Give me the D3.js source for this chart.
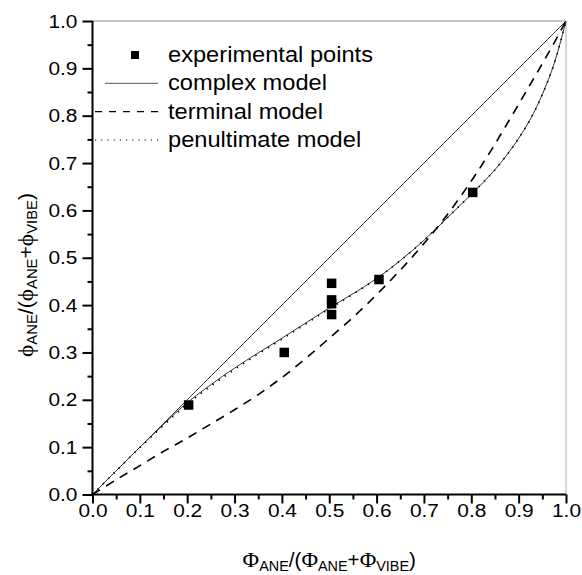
<!DOCTYPE html>
<html>
<head>
<meta charset="utf-8">
<script src="https://cdn.jsdelivr.net/npm/d3@7"></script>
<style>
  html, body { margin: 0; padding: 0; background: #fff; }
  svg { display: block; }
  text { font-family: "Liberation Sans", Arial, sans-serif; fill: #000; }
</style>
</head>
<body>
<svg id="chart" width="582" height="575"></svg>
<script>
// ---- data ----
const majorTicks = [0.0, 0.1, 0.2, 0.3, 0.4, 0.5, 0.6, 0.7, 0.8, 0.9, 1.0];
const minorTicks = [0.05, 0.15, 0.25, 0.35, 0.45, 0.55, 0.65, 0.75, 0.85, 0.95];
const tickLabels = ["0.0","0.1","0.2","0.3","0.4","0.5","0.6","0.7","0.8","0.9","1.0"];

const expX = [0.203, 0.405, 0.505, 0.505, 0.505, 0.505, 0.605, 0.803];
const expY = [0.189, 0.300, 0.446, 0.411, 0.403, 0.380, 0.454, 0.638];

const diagX = [0, 1];
const diagY = [0, 1];

const modelX = [0, 0.05, 0.1, 0.15, 0.2, 0.25, 0.3, 0.35, 0.4, 0.45, 0.5, 0.55, 0.6, 0.65, 0.7, 0.75, 0.8, 0.825, 0.85, 0.875, 0.9, 0.925, 0.95, 0.975, 1.0];
const complexY  = [0, 0.05, 0.1, 0.148, 0.194, 0.232, 0.267, 0.299, 0.330, 0.362, 0.394, 0.424, 0.456, 0.494, 0.537, 0.585, 0.634, 0.659, 0.686, 0.717, 0.752, 0.793, 0.845, 0.910, 1.0];
const penultY   = [0, 0.05, 0.099, 0.146, 0.191, 0.229, 0.264, 0.297, 0.328, 0.360, 0.392, 0.423, 0.456, 0.494, 0.537, 0.585, 0.634, 0.659, 0.686, 0.717, 0.752, 0.793, 0.845, 0.910, 1.0];
const terminalY = [0, 0.031, 0.061, 0.091, 0.119, 0.149, 0.179, 0.211, 0.247, 0.287, 0.330, 0.374, 0.422, 0.474, 0.530, 0.592, 0.662, 0.700, 0.740, 0.782, 0.824, 0.867, 0.910, 0.954, 1.0];

const legendLabels = ["experimental points", "complex model", "terminal model", "penultimate model"];

// ---- layout ----
const svg = d3.select("#chart");
const L = 92.5, T = 21, W = 473.5, H = 473.5;
const x = d3.scaleLinear().domain([0, 1]).range([L, L + W]);
const y = d3.scaleLinear().domain([0, 1]).range([T + H, T]);

// frame: top and right thin grey
svg.append("line").attr("x1", x(0)).attr("x2", x(1)).attr("y1", y(1)).attr("y2", y(1))
  .attr("stroke", "#8a8a8a").attr("stroke-width", 1);
svg.append("line").attr("x1", x(1)).attr("x2", x(1)).attr("y1", y(1)).attr("y2", y(0))
  .attr("stroke", "#c8c8c8").attr("stroke-width", 1.5);

const line = d3.line().x(d => x(d[0])).y(d => y(d[1]));
const smooth = d3.line().x(d => x(d[0])).y(d => y(d[1])).curve(d3.curveCatmullRom.alpha(0.5));

// diagonal
svg.append("path").datum(diagX.map((v, i) => [v, diagY[i]])).attr("d", line)
  .attr("fill", "none").attr("stroke", "#333").attr("stroke-width", 1);
// complex
svg.append("path").datum(modelX.map((v, i) => [v, complexY[i]])).attr("d", smooth)
  .attr("fill", "none").attr("stroke", "#333").attr("stroke-width", 1);
// penultimate dotted
svg.append("path").datum(modelX.map((v, i) => [v, penultY[i]])).attr("d", smooth)
  .attr("fill", "none").attr("stroke", "#000").attr("stroke-width", 1.6)
  .attr("stroke-dasharray", "1.4,6");
// terminal dashed
svg.append("path").datum(modelX.map((v, i) => [v, terminalY[i]])).attr("d", smooth)
  .attr("fill", "none").attr("stroke", "#000").attr("stroke-width", 1.6)
  .attr("stroke-dasharray", "9,7");

// experimental points
const sq = 9.5;
svg.append("g").selectAll("rect").data(expX.map((v, i) => [v, expY[i]])).join("rect")
  .attr("x", d => x(d[0]) - sq / 2).attr("y", d => y(d[1]) - sq / 2)
  .attr("width", sq).attr("height", sq).attr("fill", "#000");

// axes
const fmt = d => tickLabels[majorTicks.indexOf(d)];
const xAxis = svg.append("g").attr("transform", `translate(0,${y(0)})`)
  .call(d3.axisBottom(x).tickValues(majorTicks).tickFormat(fmt).tickSize(9).tickPadding(0));
const xMinor = svg.append("g").attr("transform", `translate(0,${y(0)})`)
  .call(d3.axisBottom(x).tickValues(minorTicks).tickFormat("").tickSize(5));
const yAxis = svg.append("g").attr("transform", `translate(${x(0)},0)`)
  .call(d3.axisLeft(y).tickValues(majorTicks).tickFormat(fmt).tickSize(10).tickPadding(3.7));
const yMinor = svg.append("g").attr("transform", `translate(${x(0)},0)`)
  .call(d3.axisLeft(y).tickValues(minorTicks).tickFormat("").tickSize(5));

[xAxis, xMinor, yAxis, yMinor].forEach(g => {
  g.select(".domain").remove();
  g.selectAll(".tick line").attr("stroke", "#000").attr("stroke-width", 2);
  g.selectAll(".tick text").style("font-family", '"Liberation Sans", Arial, sans-serif')
    .style("font-size", "19px").attr("fill", "#000").attr("transform", "scale(1.1,1)");
});
svg.append("line").attr("x1", x(0) - 1).attr("x2", x(1)).attr("y1", y(0)).attr("y2", y(0))
  .attr("stroke", "#000").attr("stroke-width", 2);
svg.append("line").attr("x1", x(0)).attr("x2", x(0)).attr("y1", y(0) + 1).attr("y2", y(1))
  .attr("stroke", "#000").attr("stroke-width", 2);

// legend
const lg = svg.append("g");
const rowY = [55, 83.3, 111.7, 140];
const textX = 168;
lg.append("rect").attr("x", 135 - 4).attr("y", rowY[0] - 4).attr("width", 8).attr("height", 8).attr("fill", "#000");
lg.append("line").attr("x1", 105).attr("x2", 158).attr("y1", rowY[1]).attr("y2", rowY[1])
  .attr("stroke", "#555").attr("stroke-width", 1);
lg.append("line").attr("x1", 95).attr("x2", 165).attr("y1", rowY[2]).attr("y2", rowY[2])
  .attr("stroke", "#000").attr("stroke-width", 1.3).attr("stroke-dasharray", "7,7");
lg.append("line").attr("x1", 95).attr("x2", 163).attr("y1", rowY[3]).attr("y2", rowY[3])
  .attr("stroke", "#000").attr("stroke-width", 1.2).attr("stroke-dasharray", "1.2,5");
legendLabels.forEach((t, i) => {
  lg.append("text").attr("transform", `translate(${textX},${rowY[i] + 7}) scale(1.075,1)`)
    .style("font-size", "22px").text(t);
});

// axis titles
const addParts = (el, parts) => parts.forEach(p => {
  const ts = el.append("tspan").text(p.t);
  if (p.serif) ts.style("font-family", '"Liberation Serif", "Times New Roman", serif').style("font-size", "22px");
  if (p.sub) ts.attr("baseline-shift", "-30%").style("font-size", "14px");
});
const xt = svg.append("text").attr("transform", `translate(${x(0.5)},567) scale(1.03,1)`)
  .attr("text-anchor", "middle").style("font-size", "20px");
addParts(xt, [
  {t: "Φ", serif: true}, {t: "ANE", sub: true}, {t: "/("},
  {t: "Φ", serif: true}, {t: "ANE", sub: true}, {t: "+"},
  {t: "Φ", serif: true}, {t: "VIBE", sub: true}, {t: ")"}
]);
const yt = svg.append("text").attr("transform", `translate(33,275) rotate(-90) scale(1.06,1)`)
  .attr("text-anchor", "middle").style("font-size", "20px");
addParts(yt, [
  {t: "ϕ", serif: true}, {t: "ANE", sub: true}, {t: "/("},
  {t: "ϕ", serif: true}, {t: "ANE", sub: true}, {t: "+"},
  {t: "ϕ", serif: true}, {t: "VIBE", sub: true}, {t: ")"}
]);
</script>
</body>
</html>
